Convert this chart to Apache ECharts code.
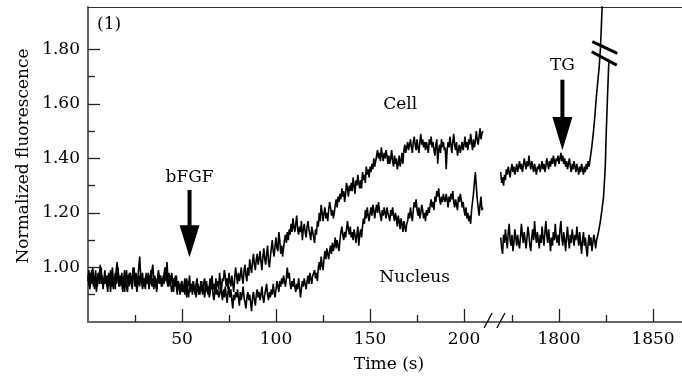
<!DOCTYPE html>
<html>
<head>
<meta charset="utf-8">
<script src="https://cdn.jsdelivr.net/npm/echarts@6/dist/echarts.min.js"></script>
<style>
  html, body { margin: 0; padding: 0; background: #fff; }
  #chart { width: 682px; height: 378px; }
</style>
</head>
<body>
<div id="chart"></div>
<script>
// Normalized fluorescence traces, one sample every 0.5 s (first part: 0-210 s)
const sampleStep = 0.5;
const cellEarly = [
  0.95, 0.99, 0.93, 0.98, 0.94, 1.00, 0.96, 0.92, 0.99, 0.95, 0.93, 0.98, 0.96, 1.01, 0.94, 0.97, 0.92, 0.96, 0.99, 0.94,
  0.97, 0.93, 0.98, 0.95, 0.91, 0.97, 1.00, 0.94, 0.96, 0.92, 0.99, 1.02, 0.95, 0.93, 0.97, 0.94, 0.98, 0.93, 0.96, 0.91,
  0.96, 0.99, 0.94, 0.97, 0.93, 0.98, 0.95, 0.92, 0.97, 1.00, 0.95, 0.98, 0.94, 0.96, 1.00, 1.04, 0.97, 0.94, 0.98, 0.93,
  0.96, 0.92, 0.97, 0.94, 0.98, 0.93, 0.96, 0.99, 0.93, 0.96, 0.92, 0.97, 0.95, 0.91, 0.96, 0.99, 0.94, 0.97, 0.93, 0.96,
  0.94, 0.98, 1.00, 0.95, 1.02, 0.96, 0.93, 0.97, 0.94, 0.98, 0.95, 0.91, 0.96, 0.93, 0.97, 0.92, 0.95, 0.93, 0.90, 0.94,
  0.95, 0.91, 0.93, 0.96, 0.92, 0.89, 0.95, 0.93, 0.97, 0.92, 0.94, 0.90, 0.95, 0.92, 0.90, 0.94, 0.96, 0.91, 0.93, 0.90,
  0.95, 0.92, 0.90, 0.94, 0.96, 0.92, 0.95, 0.91, 0.93, 0.89, 0.91, 0.95, 0.97, 0.92, 0.94, 0.90, 0.96, 0.93, 0.95, 0.92,
  0.98, 0.94, 0.92, 0.96, 0.95, 0.99, 0.97, 0.93, 0.96, 0.92, 0.98, 0.95, 0.93, 0.97, 0.94, 0.91, 0.96, 1.00, 0.97, 0.94,
  0.98, 0.95, 0.97, 1.00, 0.96, 0.94, 0.99, 1.01, 0.97, 0.95, 1.00, 0.97, 1.03, 1.00, 0.98, 1.02, 1.05, 1.01, 0.99, 1.03,
  1.05, 1.01, 1.03, 1.06, 1.02, 0.99, 1.04, 1.07, 1.03, 1.01, 1.05, 1.08, 1.02, 1.00, 1.04, 1.07, 1.10, 1.06, 1.04, 1.08,
  1.11, 1.07, 1.06, 1.13, 1.10, 1.05, 1.08, 1.04, 1.07, 1.10, 1.12, 1.09, 1.13, 1.10, 1.14, 1.12, 1.16, 1.13, 1.18, 1.15,
  1.13, 1.16, 1.19, 1.14, 1.12, 1.15, 1.13, 1.17, 1.10, 1.14, 1.16, 1.13, 1.11, 1.15, 1.17, 1.14, 1.12, 1.10, 1.15, 1.13,
  1.11, 1.09, 1.14, 1.12, 1.17, 1.15, 1.20, 1.17, 1.23, 1.20, 1.17, 1.20, 1.22, 1.18, 1.20, 1.17, 1.21, 1.24, 1.22, 1.19,
  1.21, 1.18, 1.20, 1.23, 1.25, 1.22, 1.26, 1.24, 1.27, 1.25, 1.29, 1.26, 1.28, 1.24, 1.27, 1.31, 1.29, 1.26, 1.30, 1.28,
  1.31, 1.28, 1.33, 1.30, 1.27, 1.32, 1.30, 1.34, 1.31, 1.29, 1.32, 1.29, 1.35, 1.32, 1.34, 1.31, 1.37, 1.34, 1.36, 1.33,
  1.37, 1.35, 1.38, 1.36, 1.40, 1.37, 1.39, 1.41, 1.43, 1.40, 1.42, 1.39, 1.44, 1.41, 1.39, 1.42, 1.40, 1.43, 1.41, 1.38,
  1.41, 1.38, 1.40, 1.43, 1.39, 1.37, 1.41, 1.38, 1.40, 1.36, 1.38, 1.41, 1.37, 1.39, 1.42, 1.38, 1.43, 1.45, 1.42, 1.44,
  1.46, 1.43, 1.45, 1.47, 1.44, 1.42, 1.46, 1.48, 1.45, 1.43, 1.47, 1.44, 1.42, 1.46, 1.49, 1.45, 1.47, 1.44, 1.46, 1.43,
  1.46, 1.44, 1.42, 1.47, 1.45, 1.48, 1.44, 1.46, 1.43, 1.41, 1.45, 1.47, 1.38, 1.43, 1.45, 1.42, 1.47, 1.44, 1.46, 1.43,
  1.44, 1.36, 1.43, 1.46, 1.44, 1.48, 1.45, 1.42, 1.46, 1.49, 1.45, 1.43, 1.46, 1.41, 1.43, 1.45, 1.42, 1.44, 1.46, 1.43,
  1.45, 1.48, 1.44, 1.46, 1.43, 1.47, 1.45, 1.49, 1.46, 1.43, 1.47, 1.44, 1.46, 1.50, 1.47, 1.45, 1.48, 1.51, 1.47, 1.49,
  1.50
];
const nucleusEarly = [
  0.97, 0.94, 0.92, 0.96, 0.99, 0.95, 0.93, 0.97, 0.95, 0.91, 0.96, 0.98, 0.94, 0.97, 1.00, 0.95, 0.93, 0.96, 0.94, 0.97,
  0.94, 0.91, 0.97, 0.95, 0.99, 0.93, 0.96, 0.92, 0.95, 0.98, 0.94, 0.97, 1.00, 0.95, 0.93, 0.97, 0.94, 0.91, 0.96, 0.99,
  0.95, 0.93, 0.91, 0.96, 0.98, 0.94, 0.97, 0.95, 1.00, 0.96, 0.93, 0.95, 0.91, 0.94, 0.97, 0.93, 0.98, 0.95, 0.92, 0.96,
  0.93, 0.96, 0.98, 0.94, 0.95, 0.92, 0.97, 0.94, 0.99, 1.01, 0.95, 0.93, 0.96, 0.92, 0.95, 0.98, 0.94, 0.97, 0.95, 0.93,
  0.97, 0.94, 1.00, 0.97, 0.95, 0.93, 0.98, 0.96, 0.94, 0.91, 0.93, 0.96, 0.94, 0.97, 0.93, 0.90, 0.95, 0.92, 0.94, 0.91,
  0.94, 0.91, 0.93, 0.90, 0.94, 0.96, 0.91, 0.89, 0.93, 0.91, 0.94, 0.92, 0.95, 0.91, 0.93, 0.89, 0.92, 0.94, 0.90, 0.92,
  0.92, 0.95, 0.91, 0.93, 0.89, 0.92, 0.94, 0.91, 0.90, 0.93, 0.96, 0.92, 0.94, 0.90, 0.88, 0.92, 0.94, 0.90, 0.92, 0.89,
  0.90, 0.93, 0.91, 0.88, 0.92, 0.89, 0.93, 0.90, 0.87, 0.91, 0.93, 0.89, 0.92, 0.88, 0.85, 0.90, 0.88, 0.91, 0.89, 0.92,
  0.89, 0.86, 0.91, 0.88, 0.90, 0.93, 0.89, 0.87, 0.85, 0.89, 0.91, 0.88, 0.90, 0.87, 0.84, 0.89, 0.91, 0.88, 0.86, 0.90,
  0.92, 0.89, 0.91, 0.88, 0.90, 0.93, 0.89, 0.87, 0.90, 0.92, 0.94, 0.90, 0.88, 0.91, 0.89, 0.92, 0.90, 0.94, 0.91, 0.89,
  0.92, 0.95, 0.93, 0.91, 0.95, 0.93, 0.96, 0.94, 0.97, 0.95, 0.93, 0.96, 1.00, 0.96, 0.98, 0.94, 0.92, 0.95, 0.93, 0.96,
  0.93, 0.91, 0.94, 0.92, 0.96, 0.93, 0.89, 0.92, 0.95, 0.93, 0.96, 0.94, 0.92, 0.95, 0.97, 0.94, 0.98, 0.96, 0.94, 0.97,
  0.97, 0.99, 0.96, 0.98, 0.95, 1.00, 1.02, 0.99, 1.04, 1.01, 0.99, 1.03, 1.06, 1.03, 1.07, 1.05, 1.03, 1.06, 1.08, 1.05,
  1.09, 1.06, 1.08, 1.11, 1.07, 1.10, 1.08, 1.06, 1.10, 1.13, 1.15, 1.12, 1.10, 1.13, 1.11, 1.14, 1.17, 1.14, 1.12, 1.15,
  1.11, 1.13, 1.10, 1.14, 1.12, 1.09, 1.12, 1.15, 1.08, 1.12, 1.14, 1.11, 1.15, 1.18, 1.16, 1.21, 1.18, 1.22, 1.19, 1.17,
  1.20, 1.22, 1.19, 1.23, 1.21, 1.18, 1.21, 1.23, 1.20, 1.24, 1.21, 1.19, 1.17, 1.21, 1.19, 1.22, 1.20, 1.18, 1.22, 1.20,
  1.20, 1.17, 1.21, 1.19, 1.22, 1.19, 1.17, 1.20, 1.18, 1.15, 1.19, 1.17, 1.14, 1.18, 1.16, 1.13, 1.17, 1.15, 1.13, 1.16,
  1.17, 1.20, 1.18, 1.22, 1.19, 1.17, 1.21, 1.24, 1.22, 1.25, 1.21, 1.19, 1.22, 1.18, 1.20, 1.23, 1.21, 1.18, 1.20, 1.17,
  1.21, 1.19, 1.22, 1.20, 1.23, 1.25, 1.22, 1.24, 1.21, 1.26, 1.24, 1.28, 1.26, 1.29, 1.25, 1.23, 1.26, 1.24, 1.27, 1.25,
  1.24, 1.27, 1.25, 1.22, 1.26, 1.24, 1.27, 1.25, 1.28, 1.24, 1.22, 1.25, 1.23, 1.21, 1.26, 1.24, 1.27, 1.25, 1.22, 1.24,
  1.21, 1.19, 1.22, 1.18, 1.20, 1.17, 1.19, 1.16, 1.21, 1.24, 1.27, 1.31, 1.35, 1.30, 1.25, 1.22, 1.19, 1.23, 1.26, 1.21,
  1.22
];

// Second part, every 0.5 s from 1769 s, then the steep rise after TG
const lateStart = 1769;
const cellLate = [
  1.35, 1.31, 1.33, 1.30, 1.34, 1.32, 1.36, 1.34, 1.37, 1.35, 1.33, 1.36, 1.38, 1.35, 1.37, 1.34, 1.36, 1.38, 1.35, 1.37,
  1.39, 1.36, 1.38, 1.35, 1.37, 1.40, 1.38, 1.36, 1.39, 1.37, 1.41, 1.38, 1.36, 1.39, 1.37, 1.35, 1.38, 1.36, 1.34, 1.37,
  1.36, 1.38, 1.35, 1.37, 1.39, 1.36, 1.38, 1.35, 1.37, 1.40, 1.38, 1.36, 1.39, 1.37, 1.40, 1.38, 1.41, 1.39, 1.37, 1.40,
  1.39, 1.41, 1.38, 1.40, 1.42, 1.39, 1.41, 1.38, 1.40, 1.37, 1.39, 1.36, 1.38, 1.40, 1.37, 1.35, 1.38, 1.36, 1.39, 1.37,
  1.35, 1.38, 1.36, 1.34, 1.37, 1.35, 1.38, 1.36, 1.34, 1.37, 1.35, 1.38, 1.36, 1.39, 1.37
];
const cellRiseT = [1816.6, 1817.4, 1818.2, 1819.0, 1819.8, 1820.6, 1821.3, 1822.0, 1822.5, 1823.0];
const cellRiseV = [1.40, 1.44, 1.49, 1.55, 1.62, 1.68, 1.73, 1.80, 1.88, 1.97];

const nucleusLate = [
  1.11, 1.07, 1.05, 1.12, 1.09, 1.14, 1.10, 1.07, 1.13, 1.16, 1.10, 1.08, 1.12, 1.06, 1.09, 1.14, 1.11, 1.08, 1.12, 1.09,
  1.07, 1.11, 1.16, 1.12, 1.09, 1.13, 1.10, 1.07, 1.11, 1.15, 1.12, 1.08, 1.06, 1.11, 1.14, 1.10, 1.17, 1.12, 1.09, 1.13,
  1.10, 1.07, 1.12, 1.09, 1.15, 1.11, 1.08, 1.13, 1.17, 1.12, 1.09, 1.14, 1.10, 1.06, 1.11, 1.08, 1.13, 1.10, 1.16, 1.11,
  1.09, 1.12, 1.08, 1.14, 1.17, 1.11, 1.08, 1.13, 1.10, 1.06, 1.11, 1.15, 1.10, 1.07, 1.12, 1.09, 1.14, 1.11, 1.08, 1.12,
  1.10, 1.15, 1.11, 1.08, 1.13, 1.09, 1.05, 1.10, 1.13, 1.08, 1.11, 1.07, 1.04, 1.09, 1.12, 1.08, 1.11, 1.06, 1.09, 1.12,
  1.10, 1.07, 1.10
];
const nucleusRiseT = [1821.0, 1822.0, 1822.8, 1823.7, 1824.6, 1825.1, 1825.7, 1826.4, 1826.6];
const nucleusRiseV = [1.13, 1.17, 1.21, 1.26, 1.37, 1.49, 1.61, 1.74, 1.755];

// Axis ticks and labels
const yMajor = [1.0, 1.2, 1.4, 1.6, 1.8];
const yMinor = [0.9, 1.1, 1.3, 1.5, 1.7];
const xMajorEarly = [50, 100, 150, 200];
const xMinorEarly = [25, 75, 125, 175];
const xMajorLate = [1800, 1850];
const xMinorLate = [1775, 1825];

// Stimulus times
const bFGFTime = 54;
const tgTime = 1801.8;

const FONT = 'DejaVu Serif';
const AXIS_COLOR = '#666';
const INK = '#000';

const chart = echarts.init(document.getElementById('chart'), null, { renderer: 'canvas' });

const early = arr => arr.map((v, i) => [i * sampleStep, v]);
const late = (arr, rt, rv) => arr.map((v, i) => [lateStart + i * sampleStep, v]).concat(rt.map((t, k) => [t, rv[k]]));

function xAxisMain(grid, min, max, major) {
  return {
    type: 'value', gridIndex: grid, position: 'bottom', min, max,
    axisLine: { show: true, lineStyle: { color: AXIS_COLOR, width: 2 } },
    axisTick: { show: true, inside: true, length: 13, customValues: major, lineStyle: { color: '#222', width: 1.3 } },
    axisLabel: { show: true, customValues: major, margin: 9, color: INK, fontFamily: FONT, fontSize: 17,
      formatter: v => String(v) },
    splitLine: { show: false }
  };
}
function xAxisMinor(grid, min, max, minor) {
  return {
    type: 'value', gridIndex: grid, position: 'bottom', offset: 0, min, max,
    axisLine: { show: false },
    axisTick: { show: true, inside: true, length: 7, customValues: minor, lineStyle: { color: '#222', width: 1.3 } },
    axisLabel: { show: false },
    splitLine: { show: false }
  };
}
function xAxisTop(grid, min, max) {
  return {
    type: 'value', gridIndex: grid, position: 'top', min, max,
    axisLine: { show: true, lineStyle: { color: '#333', width: 1.2 } },
    axisTick: { show: false }, axisLabel: { show: false }, splitLine: { show: false }
  };
}

const X0 = [0, 213.8];
const X1 = [1763.3, 1865.4];
const Y = [0.8, 1.955];

const lineSeries = (name, xi, yi, data) => ({
  name, type: 'line', xAxisIndex: xi, yAxisIndex: yi, data,
  showSymbol: false, symbol: 'none', clip: true,
  lineStyle: { color: INK, width: 1.6 }
});

chart.setOption({
  animation: false,
  backgroundColor: '#fff',
  grid: [
    { left: 88, top: 7, width: 402, height: 315 },
    { left: 490, top: 7, width: 192, height: 315 }
  ],
  xAxis: [
    xAxisMain(0, X0[0], X0[1], xMajorEarly),
    xAxisMain(1, X1[0], X1[1], xMajorLate),
    xAxisMinor(0, X0[0], X0[1], xMinorEarly),
    xAxisMinor(1, X1[0], X1[1], xMinorLate),
    xAxisTop(0, X0[0], X0[1]),
    xAxisTop(1, X1[0], X1[1])
  ],
  yAxis: [
    {
      type: 'value', gridIndex: 0, position: 'left', min: Y[0], max: Y[1],
      axisLine: { show: true, lineStyle: { color: AXIS_COLOR, width: 2 } },
      axisTick: { show: true, inside: true, length: 12, customValues: yMajor, lineStyle: { color: '#222', width: 1.3 } },
      axisLabel: { show: true, customValues: yMajor, margin: 8, color: INK, fontFamily: FONT, fontSize: 17,
        formatter: v => v.toFixed(2) },
      splitLine: { show: false }
    },
    {
      type: 'value', gridIndex: 0, position: 'left', offset: 0, min: Y[0], max: Y[1],
      axisLine: { show: false },
      axisTick: { show: true, inside: true, length: 7, customValues: yMinor, lineStyle: { color: '#222', width: 1.3 } },
      axisLabel: { show: false }, splitLine: { show: false }
    },
    {
      type: 'value', gridIndex: 1, min: Y[0], max: Y[1], show: false
    }
  ],
  series: [
    lineSeries('Cell', 0, 0, early(cellEarly)),
    lineSeries('Nucleus', 0, 0, early(nucleusEarly)),
    lineSeries('Cell', 1, 2, late(cellLate, cellRiseT, cellRiseV)),
    lineSeries('Nucleus', 1, 2, late(nucleusLate, nucleusRiseT, nucleusRiseV))
  ]
});

// Annotations placed in data coordinates of each panel
const p0 = (t, v) => chart.convertToPixel({ gridIndex: 0 }, [t, v]);
const p1 = (t, v) => chart.convertToPixel({ gridIndex: 1 }, [t, v]);

function arrow(top, base, tip) {
  const cx = tip[0], hw = 10, sw = 2;
  return {
    type: 'polygon', z: 100,
    shape: { points: [
      [cx - sw, top[1]], [cx + sw, top[1]], [cx + sw, base[1]], [cx + hw, base[1]],
      [cx, tip[1]], [cx - hw, base[1]], [cx - sw, base[1]]
    ] },
    style: { fill: INK }
  };
}
function label(pt, text, align) {
  return {
    type: 'text', z: 100, x: pt[0], y: pt[1],
    style: { text, fill: INK, font: '17px "' + FONT + '"', align: align || 'center', verticalAlign: 'middle' }
  };
}
function seg(a, b, w) {
  return {
    type: 'line', z: 100,
    shape: { x1: a[0], y1: a[1], x2: b[0], y2: b[1] },
    style: { stroke: INK, lineWidth: w }
  };
}

// Axis break marks on the time axis
const brk1 = p0(212.8, Y[0]);
const brk2 = p1(1769.1, Y[0]);

chart.setOption({
  graphic: [
    label(p0(4.8, 1.889), '(1)', 'left'),
    label(p0(166, 1.596), 'Cell'),
    label(p0(173.7, 0.964), 'Nucleus'),
    label(p0(bFGFTime, 1.33), 'bFGF'),
    arrow(p0(bFGFTime, 1.284), p0(bFGFTime, 1.155), p0(bFGFTime, 1.037)),
    label(p1(tgTime, 1.742), 'TG'),
    arrow(p1(tgTime, 1.688), p1(tgTime, 1.552), p1(tgTime, 1.43)),
    // off-scale marks on the rising traces
    seg(p1(1817.7, 1.828), p1(1831, 1.785), 3),
    seg(p1(1817.4, 1.791), p1(1830.7, 1.742), 3),
    seg([brk1[0] - 4, brk1[1] + 6], [brk1[0] + 4, brk1[1] - 9], 1.3),
    seg([brk2[0] - 4, brk2[1] + 6], [brk2[0] + 4, brk2[1] - 9], 1.3),
    {
      type: 'text', z: 100, x: 24, y: 156, rotation: Math.PI / 2,
      style: { text: 'Normalized fluorescence', fill: INK, font: '17px "' + FONT + '"', align: 'center', verticalAlign: 'middle' }
    },
    {
      type: 'text', z: 100, x: 389, y: 365,
      style: { text: 'Time (s)', fill: INK, font: '17px "' + FONT + '"', align: 'center', verticalAlign: 'middle' }
    }
  ]
});
</script>
</body>
</html>
